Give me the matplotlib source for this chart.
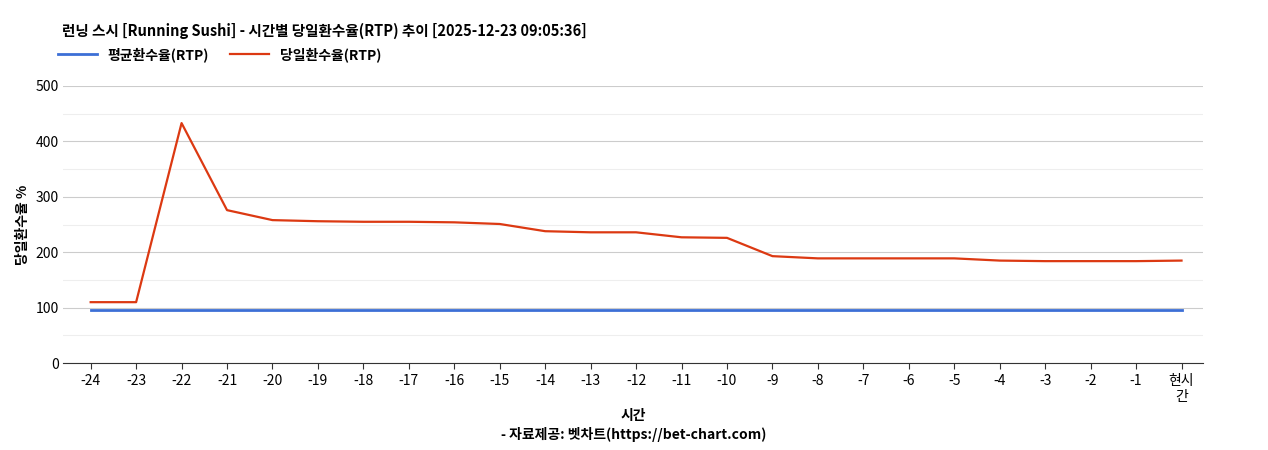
import matplotlib
matplotlib.use("Agg")
import matplotlib.pyplot as plt

plt.rcParams['font.family'] = ['Noto Sans CJK KR', 'DejaVu Sans']

labels = ['-24', '-23', '-22', '-21', '-20', '-19', '-18', '-17', '-16', '-15', '-14', '-13',
          '-12', '-11', '-10', '-9', '-8', '-7', '-6', '-5', '-4', '-3', '-2', '-1', '현시\n간']
avg_rtp = [96] * 25
day_rtp = [110, 110, 433, 276, 258, 256, 255, 255, 254, 251, 238, 236,
           236, 227, 226, 193, 189, 189, 189, 189, 185, 184, 184, 184, 185]

fig = plt.figure(figsize=(12.68, 4.5), dpi=100)
ax = fig.add_axes([0.05, 0.193, 0.899, 0.616])
x = list(range(len(labels)))
ax.plot(x, avg_rtp, color='#3c6fd6', lw=2, label='평균환수율(RTP)')
ax.plot(x, day_rtp, color='#dc3912', lw=1.6, label='당일환수율(RTP)')

ax.set_ylim(0, 500)
ax.set_xlim(-0.6, 24.48)
ax.set_yticks(range(0, 501, 100))
ax.set_yticks(range(50, 500, 100), minor=True)
ax.grid(axis='y', which='major', color='#cccccc', lw=0.8)
ax.grid(axis='y', which='minor', color='#eeeeee', lw=0.8)
ax.set_axisbelow(True)
ax.set_xticks(x)
ax.set_xticklabels(labels)
ax.tick_params(axis='both', which='both', labelsize=10, length=0)
ax.tick_params(axis='x', length=4, color='#333333')
for s in ['top', 'right', 'left']:
    ax.spines[s].set_visible(False)
ax.spines['bottom'].set_color('#333333')

ax.set_ylabel('당일환수율 %', fontsize=10, fontweight='bold')
ax.set_xlabel('시간\n- 자료제공: 벳차트(https://bet-chart.com)', fontsize=10, fontweight='bold', linespacing=1.3)

fig.text(0.049, 0.92, '런닝 스시 [Running Sushi] - 시간별 당일환수율(RTP) 추이 [2025-12-23 09:05:36]',
         fontsize=10.5, fontweight='bold')
ax.legend(loc='center left', bbox_to_anchor=(-0.005, 1.112), ncol=2, frameon=False,
          prop={'weight': 'bold', 'size': 10}, handlelength=2.8, columnspacing=1.5,
          borderaxespad=0, borderpad=0)

fig.savefig('out.png')
